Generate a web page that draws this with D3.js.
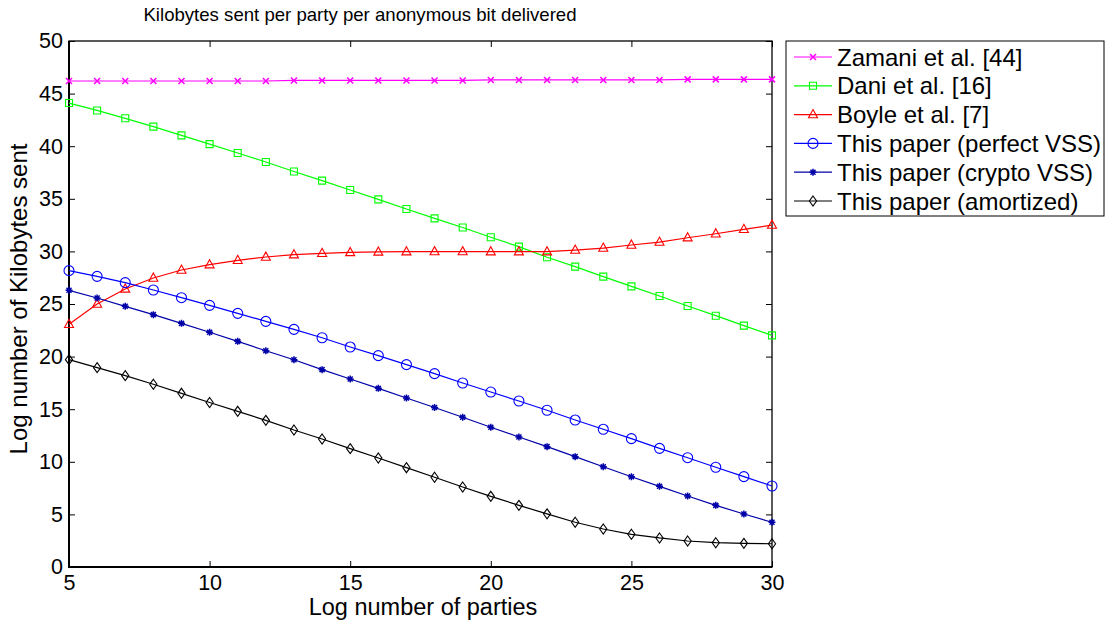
<!DOCTYPE html>
<html>
<head>
<meta charset="utf-8">
<script src="https://cdn.jsdelivr.net/npm/d3@7"></script>
<style>
  body { margin: 0; background: #fff; }
  svg text { font-family: 'Liberation Sans', Arial, sans-serif; fill: #000; }
</style>
</head>
<body>
<div class="chart"></div>
<script>
// x values: log number of parties
const parties = [5,6,7,8,9,10,11,12,13,14,15,16,17,18,19,20,21,22,23,24,25,26,27,28,29,30];

// log kilobytes sent, one array per protocol
const zamani = [46.2,46.2,46.2,46.2,46.2,46.2,46.2,46.2,46.25,46.25,46.25,46.25,46.25,46.25,46.25,46.3,46.3,46.3,46.3,46.3,46.3,46.3,46.35,46.35,46.35,46.35];
const dani = [44.1,43.4,42.65,41.86,41.03,40.2,39.35,38.5,37.6,36.73,35.84,34.95,34.03,33.14,32.27,31.34,30.45,29.44,28.55,27.6,26.68,25.76,24.81,23.89,22.94,22.02];
const boyle = [23.07,25.0,26.43,27.47,28.23,28.74,29.15,29.47,29.69,29.82,29.9,29.95,29.97,29.98,29.98,29.97,29.97,29.97,30.13,30.32,30.61,30.89,31.3,31.68,32.1,32.5];
const perfectVSS = [28.17,27.63,27.03,26.33,25.6,24.87,24.11,23.35,22.59,21.79,20.91,20.09,19.24,18.38,17.49,16.63,15.78,14.9,13.97,13.09,12.2,11.28,10.39,9.48,8.59,7.7];
const cryptoVSS = [26.3,25.57,24.78,23.99,23.16,22.31,21.45,20.56,19.7,18.76,17.87,16.98,16.06,15.16,14.24,13.28,12.36,11.44,10.49,9.53,8.58,7.67,6.75,5.86,5.04,4.25];
const amortized = [19.71,18.95,18.19,17.37,16.51,15.64,14.8,13.94,13.02,12.17,11.25,10.36,9.44,8.53,7.6,6.72,5.86,5.05,4.25,3.61,3.11,2.76,2.47,2.31,2.25,2.21];

const seriesNames = ['Zamani et al. [44]','Dani et al. [16]','Boyle et al. [7]','This paper (perfect VSS)','This paper (crypto VSS)','This paper (amortized)'];
const seriesColors = ['#ff00ff','#00ff00','#ff0000','#0000ff','#0000a8','#000000'];
const seriesMarkers = ['x','square','triangle','circle','star','diamond'];
const seriesValues = [zamani, dani, boyle, perfectVSS, cryptoVSS, amortized];

const xTicks = [5,10,15,20,25,30];
const yTicks = [0,5,10,15,20,25,30,35,40,45,50];

const W = 1117, H = 626;
const pLeft = 69, pRight = 772, pTop = 41, pBottom = 567;

const svg = d3.select('.chart')
  .append('svg')
  .attr('width', W)
  .attr('height', H);

svg.append('rect')
  .attr('width', W).attr('height', H)
  .style('fill', '#fff');

const x = d3.scaleLinear().domain([5,30]).range([pLeft, pRight]);
const y = d3.scaleLinear().domain([0,50]).range([pBottom, pTop]);

// axes, ticks point inward like matlab
svg.append('g')
  .attr('transform', `translate(0,${pBottom})`)
  .call(d3.axisBottom(x).tickValues(xTicks).tickSize(-6).tickPadding(8))
  .call(g => g.select('.domain').remove())
  .selectAll('text').style('font-size', '21.5px');

svg.append('g')
  .attr('transform', `translate(0,${pTop})`)
  .call(d3.axisTop(x).tickValues(xTicks).tickSize(-6).tickFormat(''))
  .call(g => g.select('.domain').remove());

svg.append('g')
  .attr('transform', `translate(${pLeft},0)`)
  .call(d3.axisLeft(y).tickValues(yTicks).tickSize(-6).tickPadding(6))
  .call(g => g.select('.domain').remove())
  .selectAll('text').style('font-size', '21.5px');

svg.append('g')
  .attr('transform', `translate(${pRight},0)`)
  .call(d3.axisRight(y).tickValues(yTicks).tickSize(-6).tickFormat(''))
  .call(g => g.select('.domain').remove());

svg.selectAll('.tick line').style('stroke', '#000');

// frame: top/right thin, left/bottom a bit heavier
svg.append('rect')
  .attr('x', pLeft).attr('y', pTop)
  .attr('width', pRight - pLeft).attr('height', pBottom - pTop)
  .style('fill', 'none')
  .style('stroke', '#000')
  .style('stroke-width', 1.3);
svg.append('path')
  .attr('d', `M${pLeft},${pTop}V${pBottom}H${pRight}`)
  .style('fill', 'none')
  .style('stroke', '#000')
  .style('stroke-width', 2);

// marker paths centred on 0,0
function markerPath(kind) {
  if (kind === 'x') return 'M-3,-3L3,3M-3,3L3,-3';
  if (kind === 'square') return 'M-3.5,-3.5H3.5V3.5H-3.5Z';
  if (kind === 'triangle') return 'M0,-5L4.5,3.2H-4.5Z';
  if (kind === 'diamond') return 'M0,-5L3.6,0L0,5L-3.6,0Z';
  if (kind === 'star') return 'M-3.5,0H3.5M0,-3.5V3.5M-2.5,-2.5L2.5,2.5M-2.5,2.5L2.5,-2.5';
  return null;
}

function drawMarker(g, kind, color, cx, cy) {
  if (kind === 'circle') {
    g.append('circle')
      .attr('cx', cx).attr('cy', cy).attr('r', 5)
      .style('fill', 'none').style('stroke', color).style('stroke-width', 1.1);
  } else {
    g.append('path')
      .attr('d', markerPath(kind))
      .attr('transform', `translate(${cx},${cy})`)
      .style('fill', 'none').style('stroke', color)
      .style('stroke-width', kind === 'star' || kind === 'x' ? 1.5 : 1.1);
  }
}

const line = d3.line()
  .x(d => x(d[0]))
  .y(d => y(d[1]));

seriesValues.forEach((vals, i) => {
  const pts = parties.map((p, j) => [p, vals[j]]);
  const g = svg.append('g');
  g.append('path')
    .attr('d', line(pts))
    .style('fill', 'none')
    .style('stroke', seriesColors[i])
    .style('stroke-width', 1.2);
  pts.forEach(d => drawMarker(g, seriesMarkers[i], seriesColors[i], x(d[0]), y(d[1])));
});

// title + labels
svg.append('text')
  .attr('x', 360).attr('y', 20.5)
  .attr('text-anchor', 'middle')
  .style('font-size', '18.6px')
  .text('Kilobytes sent per party per anonymous bit delivered');

svg.append('text')
  .attr('x', 423).attr('y', 615)
  .attr('text-anchor', 'middle')
  .style('font-size', '23.5px')
  .text('Log number of parties');

svg.append('text')
  .attr('transform', 'translate(27,299) rotate(-90)')
  .attr('text-anchor', 'middle')
  .style('font-size', '24px')
  .text('Log number of Kilobytes sent');

// legend
const leg = svg.append('g');
leg.append('rect')
  .attr('x', 786).attr('y', 41)
  .attr('width', 318).attr('height', 175)
  .style('fill', '#fff')
  .style('stroke', '#000')
  .style('stroke-width', 1);

seriesNames.forEach((name, i) => {
  const ly = 57 + i * 28.8;
  leg.append('line')
    .attr('x1', 794).attr('x2', 832)
    .attr('y1', ly).attr('y2', ly)
    .style('stroke', seriesColors[i])
    .style('stroke-width', 1.2);
  drawMarker(leg, seriesMarkers[i], seriesColors[i], 813, ly);
  leg.append('text')
    .attr('x', 837).attr('y', ly + 8.5)
    .style('font-size', '24px')
    .text(name);
});
</script>
</body>
</html>
